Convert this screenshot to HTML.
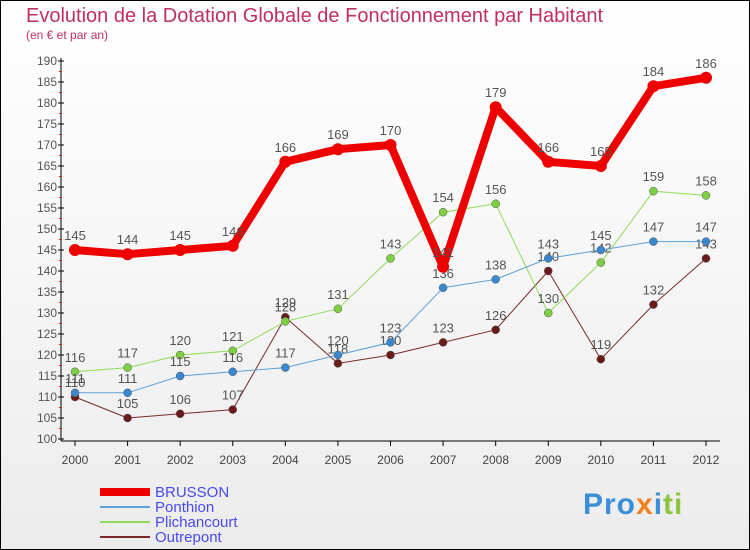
<!DOCTYPE html>
<html><head><meta charset="utf-8"><style>
body{margin:0;}
#wrap{width:750px;height:550px;position:relative;overflow:hidden;background:linear-gradient(#fff,#ececec);font-family:"Liberation Sans",sans-serif;}
</style></head><body>
<div id="wrap">
<svg id="chart" width="750" height="550">
<rect x="0.5" y="0.5" width="749" height="549" fill="none" stroke="#000"/>
<text x="26" y="22" font-size="20" fill="#c0305c">Evolution de la Dotation Globale de Fonctionnement par Habitant</text>
<text x="26" y="39" font-size="12" fill="#c0305c">(en € et par an)</text>
</svg>
<div style="position:absolute;left:583px;top:488px;font-size:30px;font-weight:bold;letter-spacing:1px"><span style="color:#3a8fd8">Pro</span><span style="color:#f08020">x</span><span style="color:#3a8fd8">i</span><span style="color:#8cc63f">ti</span></div>
</div>
<script>
const years=[2000,2001,2002,2003,2004,2005,2006,2007,2008,2009,2010,2011,2012];
const yTicks=[100,105,110,115,120,125,130,135,140,145,150,155,160,165,170,175,180,185,190];
const brusson=[145,144,145,146,166,169,170,141,179,166,165,184,186];
const ponthion=[111,111,115,116,117,120,123,136,138,143,145,147,147];
const plichancourt=[116,117,120,121,128,131,143,154,156,130,142,159,158];
const outrepont=[110,105,106,107,129,118,120,123,126,140,119,132,143];
const NS='http://www.w3.org/2000/svg';
const svg=document.getElementById('chart');
const X=i=>75+i*(706-75)/12;
const Y=v=>61+(190-v)*4.2;
function mk(t,a){const e=document.createElementNS(NS,t);for(const k in a)e.setAttribute(k,a[k]);svg.appendChild(e);return e;}
let ax=mk('line',{x1:61,y1:58,x2:61,y2:441,stroke:'#000'});


let xax=mk('line',{x1:61,y1:441,x2:720,y2:441,stroke:'#000'});


yTicks.forEach(v=>{
 mk('line',{x1:58,y1:Y(v),x2:64,y2:Y(v),stroke:'#000'});
 if(v<190){mk('line',{x1:59,y1:Y(v+2.5),x2:61,y2:Y(v+2.5),stroke:'#e00'});}
 let t=mk('text',{x:57,y:Y(v)+4,'font-size':12,fill:'#555','text-anchor':'end'});
 t.textContent=v;
 
 
});
years.forEach((yr,i)=>{
 mk('line',{x1:X(i),y1:441,x2:X(i),y2:446,stroke:'#000'});
 let t=mk('text',{x:X(i),y:464,'font-size':12,fill:'#444','text-anchor':'middle'});
 t.textContent=yr;
 
 
});
function series(arr,color,w,r,name,pt){
 let p=mk('polyline',{points:arr.map((v,i)=>X(i)+','+Y(v)).join(' '),fill:'none',stroke:color,'stroke-width':w,'stroke-linejoin':'round'});
 
 
 arr.forEach((v,i)=>{
  let c=mk('circle',{cx:X(i),cy:Y(v),r:r,fill:pt,stroke:'#555','stroke-width':w>3?0:0.5});
  
  
  let t=mk('text',{x:X(i),y:Y(v)-10,'font-size':13,fill:'#555','text-anchor':'middle'});
  t.textContent=v;
  
  
 });
}
series(outrepont,'#7a2a2a',1,4,'outrepont','#6b1a1a');
series(plichancourt,'#8fdc5a',1,4,'plichancourt','#7fd040');
series(ponthion,'#5ea0d8',1,4,'ponthion','#3a88d0');
series(brusson,'#ee0000',8,6,'brusson','#ee0000');
const legend=[['BRUSSON','#ee0000',8],['Ponthion','#5ea0d8',2],['Plichancourt','#8fdc5a',2],['Outrepont','#7a2a2a',2]];
legend.forEach((l,i)=>{
 let y=492+i*15;
 let ln=mk('line',{x1:100,y1:y,x2:150,y2:y,stroke:l[1],'stroke-width':l[2]});
 
 
 let t=mk('text',{x:155,y:y+5,'font-size':15,fill:'#4a4aee'});
 t.textContent=l[0];
 
 
});
</script>
</body></html>
